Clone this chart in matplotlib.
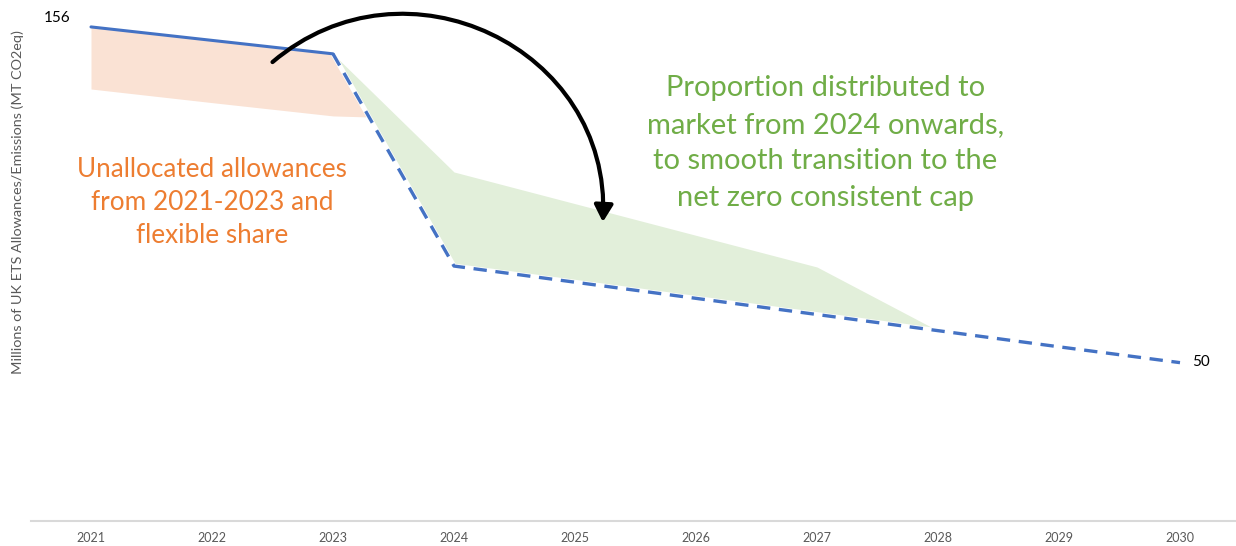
import numpy as np
import matplotlib
matplotlib.use("Agg")
import matplotlib.pyplot as plt
from matplotlib.patches import FancyArrowPatch
from matplotlib.path import Path

# Cap trajectory (MT CO2eq)
years = [2021, 2022, 2023, 2024, 2025, 2026, 2027, 2028, 2029, 2030]
cap = [156, 151.75, 147.5, 80.5, 75.4, 70.3, 65.2, 60.1, 55.0, 50]

# Unallocated allowances band (2021-2023)
unalloc_x = [2021, 2022, 2023, 2023.27]
unalloc_top = [156, 151.75, 147.5, 128.8]
unalloc_bottom = [136.4, 132.1, 127.9, 127.6]

# Proportion distributed to market band (2023-2028)
market_x = [2023, 2024, 2025, 2026, 2027, 2028]
market_top = [147.5, 110.2, 100.2, 90.2, 80.2, 60.1]
market_bottom = [147.5, 80.5, 75.4, 70.3, 65.2, 60.1]

# curved arrow (bezier control points, data coords)
arrow_x = [2022.50, 2023.60, 2025.30, 2025.23]
arrow_y = [144.9, 180.6, 149.3, 94.4]

BLUE = "#4472C4"
GREEN = "#70AD47"
ORANGE = "#ED7D31"
GREY = "#595959"

plt.rcParams['font.family'] = ['Lato', 'DejaVu Sans']

fig = plt.figure(figsize=(12.36, 5.46), dpi=100)
ax = fig.add_axes([30.5 / 1236, 25 / 546, 1210 / 1236, 521 / 546])
ax.set_xlim(2020.5, 2030.5)
ax.set_ylim(0, 164.5)

ax.fill_between(unalloc_x, unalloc_bottom, unalloc_top, color="#FAE2D4", lw=0, zorder=1)
ax.fill_between(market_x, market_bottom, market_top, color="#E2EFDA", lw=0, zorder=1)

# white halo under the cap line
ax.plot(years[2:], cap[2:], color="white", lw=3.5, solid_capstyle="round", zorder=2)
ax.plot(years[:3], cap[:3], color=BLUE, lw=2.2, solid_capstyle="round", zorder=3)
ax.plot(years[2:], cap[2:], color=BLUE, lw=2.4, linestyle=(0, (4, 2.6)), zorder=3)

verts = list(zip(arrow_x, arrow_y))
arrow_path = Path(verts, [Path.MOVETO, Path.CURVE4, Path.CURVE4, Path.CURVE4])
arrow = FancyArrowPatch(path=arrow_path, arrowstyle="-|>,head_length=0.5,head_width=0.28",
                        mutation_scale=20, color="black", lw=3, zorder=5,
                        transform=ax.transData, clip_on=False)
ax.add_patch(arrow)

# end labels
ax.text(years[0] - 0.28, cap[0] + 2.7, f"{cap[0]}", fontsize=11, color="black", ha="center", va="center")
ax.text(years[-1] + 0.1, cap[-1] + 0.3, f"{cap[-1]}", fontsize=11, color="black", ha="left", va="center")

ax.text(2027.07, 119.4, "Proportion distributed to\nmarket from 2024 onwards,\nto smooth transition to the\nnet zero consistent cap",
        fontsize=21, color=GREEN, ha="center", va="center", linespacing=1.5)
ax.text(2022.0, 100.6, "Unallocated allowances\nfrom 2021-2023 and\nflexible share",
        fontsize=18.8, color=ORANGE, ha="center", va="center", linespacing=1.39)

fig.text(18 / 1236, 1 - 202 / 546, "Millions of UK ETS Allowances/Emissions (MT CO2eq)",
         rotation=90, fontsize=10.4, color=GREY, ha="center", va="center")

ax.set_xticks(years)
ax.set_xticklabels([str(y) for y in years])
ax.set_yticks([])
ax.tick_params(axis="x", length=0, pad=8, labelsize=9, labelcolor=GREY)
for side in ["top", "right", "left"]:
    ax.spines[side].set_visible(False)
ax.spines["bottom"].set_color("#D9D9D9")
ax.spines["bottom"].set_linewidth(1.5)

fig.savefig("out.png", dpi=100)
